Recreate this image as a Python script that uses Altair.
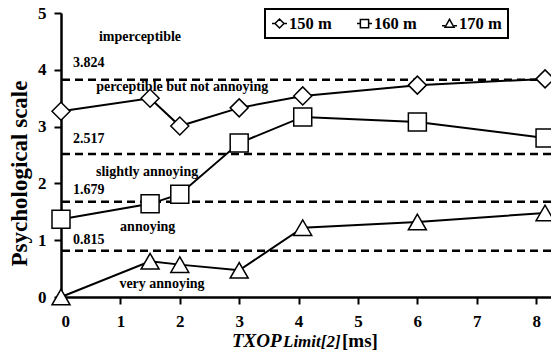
import altair as alt
import pandas as pd

# Measured series: TXOP limit [ms] vs. psychological scale
series_names = ["150 m", "160 m", "170 m"]
txop = [0, 1.5, 2, 3, 4.07, 6, 8.15]
scale_150 = [3.27, 3.50, 3.01, 3.33, 3.54, 3.73, 3.84]
scale_160 = [1.37, 1.64, 1.81, 2.71, 3.17, 3.08, 2.80]
scale_170 = [0.00, 0.63, 0.57, 0.47, 1.22, 1.32, 1.48]

# Category thresholds and the verbal bands between them
thresholds = [3.824, 2.517, 1.679, 0.815]
threshold_labels = ["3.824", "2.517", "1.679", "0.815"]
threshold_label_x = [0.2, 0.2, 0.2, 0.2]
threshold_label_y = [4.12, 2.79, 1.88, 1.00]

band_names = ["imperceptible", "perceptible but not annoying", "slightly annoying",
              "annoying", "very annoying"]
band_x = [1.33, 2.04, 1.45, 1.46, 1.70]
band_y = [4.58, 3.70, 2.20, 1.23, 0.23]

x_ticks = [0, 1, 2, 3, 4, 5, 6, 7, 8]
y_ticks = [0, 1, 2, 3, 4, 5]

FONT = "Liberation Serif"

rows = []
for name, vals in zip(series_names, [scale_150, scale_160, scale_170]):
    for x, y in zip(txop, vals):
        rows.append({"series": name, "txop": x, "value": y})
df = pd.DataFrame(rows)

thr_df = pd.DataFrame({"y": thresholds})
thr_lbl = pd.DataFrame({"x": threshold_label_x, "y": threshold_label_y, "t": threshold_labels})
band_df = pd.DataFrame({"x": band_x, "y": band_y, "t": band_names})

x_scale = alt.Scale(domain=[0, 8.25], nice=False, zero=False)
y_scale = alt.Scale(domain=[0, 5], nice=False)

# Legend symbols: marker with short line stubs on both sides
legend_paths = [
    "M-1,0L-0.6,0M0.6,0L1,0M-0.6,0L0,-0.6L0.6,0L0,0.6Z",
    "M-1,0L-0.55,0M0.55,0L1,0M-0.55,-0.55L0.55,-0.55L0.55,0.55L-0.55,0.55Z",
    "M-1,0.3L-0.6,0.3M0.6,0.3L1,0.3M-0.6,0.5L0,-0.55L0.6,0.5Z",
]

base = alt.Chart(df)

rules = alt.Chart(thr_df).mark_rule(
    color="black", strokeWidth=2.5, strokeDash=[8, 5]
).encode(y=alt.Y("y:Q", scale=y_scale))

thr_text = alt.Chart(thr_lbl).mark_text(
    font=FONT, fontWeight="bold", fontSize=14, align="left", baseline="middle", color="black"
).encode(x=alt.X("x:Q", scale=x_scale), y=alt.Y("y:Q", scale=y_scale), text="t:N")

band_text = alt.Chart(band_df).mark_text(
    font=FONT, fontWeight="bold", fontSize=14, align="center", baseline="middle", color="black"
).encode(x=alt.X("x:Q", scale=x_scale), y=alt.Y("y:Q", scale=y_scale), text="t:N")

lines = base.mark_line(color="black", strokeWidth=2).encode(
    x=alt.X("txop:Q", scale=x_scale,
            axis=alt.Axis(values=x_ticks, title=None, format="d")),
    y=alt.Y("value:Q", scale=y_scale,
            axis=alt.Axis(values=y_ticks, title="Psychological scale", format="d",
                          titleAngle=270, titleX=-42, titleY=160,
                          titleAlign="center", titleBaseline="middle")),
    detail="series:N",
)

points = base.mark_point(
    filled=True, fill="white", stroke="black", strokeWidth=1.5, opacity=1
).encode(
    x=alt.X("txop:Q", scale=x_scale),
    y=alt.Y("value:Q", scale=y_scale),
    shape=alt.Shape(
        "series:N",
        scale=alt.Scale(domain=series_names, range=["diamond", "square", "triangle-up"]),
        legend=None,
    ),
    size=alt.Size(
        "series:N",
        scale=alt.Scale(domain=series_names, range=[324, 324, 484]),
        legend=None,
    ),
)

# Layer with no drawn rows that only carries the legend (marker with line stubs)
legend_layer = base.mark_point(
    filled=False, color="black", strokeWidth=1.5, size=225, opacity=1
).encode(
    x=alt.X("txop:Q", scale=x_scale),
    y=alt.Y("value:Q", scale=y_scale),
    shape=alt.Shape(
        "series:N",
        scale=alt.Scale(domain=series_names, range=legend_paths),
        legend=alt.Legend(
            title=None, orient="none", legendX=204, legendY=-4,
            direction="horizontal", columns=3,
            labelFont=FONT, labelFontWeight="bold", labelFontSize=16.5,
            labelColor="black", labelOffset=1, columnPadding=22,
            symbolSize=225, symbolStrokeWidth=1.5, symbolOpacity=1,
            symbolStrokeColor="black",
        ),
    ),
).transform_filter("false")

# Axis title with italic subscript part
title_parts = [
    ("TXOP", 171, 19, "italic"),
    ("Limit[2]", 222, 17, "italic"),
    ("[ms]", 281, 19, "normal"),
]
title_layers = [
    alt.Chart(pd.DataFrame({"t": [t]})).mark_text(
        font=FONT, fontWeight="bold", fontStyle=style, fontSize=size,
        align="left", baseline="alphabetic", color="black"
    ).encode(x=alt.value(px), y=alt.value(334), text="t:N")
    for t, px, size, style in title_parts
]

chart = alt.layer(
    rules, thr_text, band_text, lines, points, legend_layer, *title_layers
).resolve_scale(shape="independent").properties(
    width=490, height=284,
    autosize=alt.AutoSizeParams(type="none"),
    padding={"left": 61, "top": 13, "right": 0, "bottom": 64},
    background="white",
).configure_view(stroke=None).configure_axis(
    domainColor="black", domainWidth=2.5,
    tickColor="black", tickWidth=2, tickSize=7,
    labelFont=FONT, labelFontWeight="bold", labelFontSize=17, labelColor="black",
    titleFont=FONT, titleFontWeight="bold", titleFontSize=23, titleColor="black",
    grid=False,
).configure_axisX(labelPadding=9).configure_axisY(labelPadding=8).configure_legend(
    strokeColor="black", strokeWidth=2, padding=6,
)

chart.save("out.html", embed_options={"renderer": "svg", "actions": False})
